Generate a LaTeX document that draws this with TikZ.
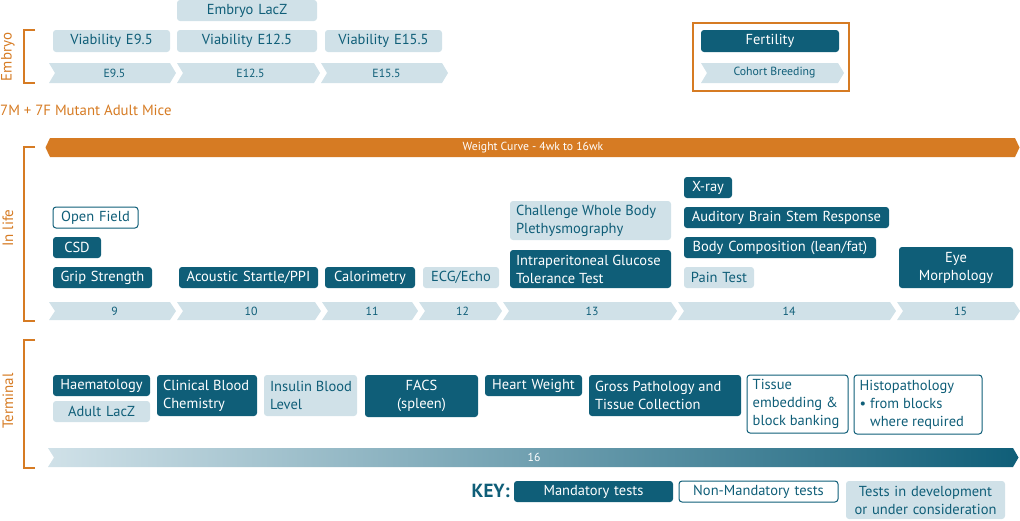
\documentclass[tikz,border=0pt]{standalone}
\usepackage{fontspec}
\setmainfont{PT Sans}
\definecolor{dk}{RGB}{15,94,120}
\definecolor{lt}{RGB}{208,225,232}
\definecolor{org}{RGB}{214,123,35}
\tikzset{
 boxfont/.style={font=\fontsize{14.5}{18}\selectfont},
 box/.style={rounded corners=3pt, inner sep=0pt, boxfont},
 mand/.style={box, fill=dk, text=white},
 nonm/.style={box, draw=dk, line width=1pt, fill=white, text=dk},
 devt/.style={box, fill=lt, text=dk},
 chevtxt/.style={font=\fontsize{11.8}{13}\selectfont, text=dk},
 bracket/.style={draw=org, line width=2.5pt},
 sect/.style={text=org, rotate=90, font=\fontsize{15}{17}\selectfont},
}
\newcommand\bx[7]{%
 \pgfmathsetmacro\bxw{#5-#3}\pgfmathsetmacro\bxh{#6-#4}\pgfmathsetmacro\bxtw{#5-#3-4}%
 \node[#1, minimum width=\bxw pt, minimum height=\bxh pt, text width=\bxtw pt, align=center] (#2) at ({(#3+#5)/2},{(#4+#6)/2}) {#7};}
% left-aligned text: #1 style, #2 text colour, #3 name, #4..#7 box, #8 text
\newcommand\bxl[8]{%
 \pgfmathsetmacro\bxw{#6-#4}\pgfmathsetmacro\bxh{#7-#5}%
 \node[#1, minimum width=\bxw pt, minimum height=\bxh pt,
   label={[anchor=west, xshift=6pt, inner sep=0pt, align=left, boxfont, text=#2]west:{#8}}] (#3) at ({(#4+#6)/2},{(#5+#7)/2}) {};}
\newcommand\chev[7]{%
 \fill[#6] (#2,#4) -- ({#3-6},#4) -- (#3,{(#4+#5)/2}) -- ({#3-6},#5) -- (#2,#5) -- ({#2+6},{(#4+#5)/2}) -- cycle;
 \node[chevtxt] (#1) at ({(#2+#3)/2+2},{(#4+#5)/2}) {#7};}
\begin{document}
\begin{tikzpicture}[x=1pt,y=-1pt]
\useasboundingbox (0,0) rectangle (1020,520);
% ---------- Embryo
\draw[bracket] (35,30) -- (24,30) -- (24,83) -- (35,83);
\node[sect] (lembryo) at (8,57) {Embryo};
\bx{devt}{elacz}{177}{0}{317}{21}{Embryo LacZ}
\bx{devt}{v95}{53}{30}{170}{52}{Viability E9.5}
\bx{devt}{v125}{177}{30}{317}{52}{Viability E12.5}
\bx{devt}{v155}{325}{30}{442}{52}{Viability E15.5}
\chev{ce95}{49}{176}{63}{83}{lt}{E9.5}
\chev{ce125}{177}{320}{63}{83}{lt}{E12.5}
\chev{ce155}{321}{448}{63}{83}{lt}{E15.5}
\draw[draw=org, line width=2pt] (693,23) rectangle (849,91);
\bx{mand}{fert}{701}{30}{839}{52}{Fertility}
\chev{ccoh}{701}{844}{63}{83}{lt}{Cohort Breeding}
\node[text=org, anchor=west, inner sep=0pt, font=\fontsize{14.8}{16}\selectfont] (mice) at (0,110) {7M + 7F Mutant Adult Mice};
% ---------- In life
\fill[org] (50,138) -- (1015,138) -- (1019.5,147.5) -- (1015,157) -- (50,157) -- (45.5,147.5) -- cycle;
\node[text=white, font=\fontsize{11.7}{13}\selectfont] (weight) at (533,147.5) {Weight Curve - 4wk to 16wk};
\draw[bracket] (35,147) -- (24,147) -- (24,321) -- (35,321);
\node[sect] (linlife) at (8,228) {In life};
\bx{nonm}{openf}{53}{207}{138}{228}{Open Field}
\bx{mand}{csd}{53}{237}{101}{258}{CSD}
\bx{mand}{grip}{53}{267}{152}{288}{Grip Strength}
\bx{mand}{acou}{179}{267}{318}{288}{Acoustic Startle/PPI}
\bx{mand}{calor}{325}{267}{415}{288}{Calorimetry}
\bx{devt}{ecg}{423}{267}{499}{288}{ECG/Echo}
\bxl{devt}{dk}{pleth}{510}{201}{671}{240}{Challenge Whole Body\\Plethysmography}
\bxl{mand}{white}{ipgtt}{510}{250}{671}{288}{Intraperitoneal Glucose\\Tolerance Test}
\bx{mand}{xray}{684}{177}{732}{198}{X-ray}
\bx{mand}{abr}{684}{207}{889}{228}{Auditory Brain Stem Response}
\bx{mand}{bodyc}{684}{237}{876}{258}{Body Composition (lean/fat)}
\bx{devt}{pain}{684}{267}{754}{288}{Pain Test}
\bx{mand}{eye}{899}{247}{1013}{288}{Eye\\Morphology}
\chev{c9}{49}{176}{302}{320}{lt}{9}
\chev{c10}{177}{321}{302}{320}{lt}{10}
\chev{c11}{322}{418}{302}{320}{lt}{11}
\chev{c12}{419}{502}{302}{320}{lt}{12}
\chev{c13}{503}{677}{302}{320}{lt}{13}
\chev{c14}{678}{896}{302}{320}{lt}{14}
\chev{c15}{897}{1020}{302}{320}{lt}{15}
% ---------- Terminal
\draw[bracket] (35,340) -- (24,340) -- (24,468) -- (35,468);
\node[sect] (lterm) at (8,401) {Terminal};
\bx{mand}{haem}{53}{375}{150}{396}{Haematology}
\bx{devt}{alacz}{53}{401}{150}{422}{Adult LacZ}
\bxl{mand}{white}{cbc}{157}{375}{257}{416}{Clinical Blood\\Chemistry}
\bxl{devt}{dk}{insul}{264}{375}{357}{416}{Insulin Blood\\Level}
\bx{mand}{facs}{365}{375}{478}{417}{FACS\\(spleen)}
\bx{mand}{heart}{485}{375}{582}{396}{Heart Weight}
\bxl{mand}{white}{gross}{589}{375}{741}{416}{Gross Pathology and\\Tissue Collection}
\bxl{nonm}{dk}{tissue}{747}{375}{848}{433}{Tissue\\embedding \&\\block banking}
\bxl{nonm}{dk}{histo}{854}{375}{982}{434}{Histopathology\\\textbullet\ from blocks\\\hphantom{\textbullet\ }where required}
\shade[left color=lt, right color=dk] (48,448) -- (1013,448) -- (1018.5,457.5) -- (1013,467) -- (48,467) -- (54,457.5) -- cycle;
\node[text=white, font=\fontsize{11.7}{13}\selectfont] (t16) at (534,457.5) {16};
% ---------- Key
\node[text=dk, font=\fontsize{19}{22}\bfseries, anchor=east, inner sep=0pt] (keylbl) at (510,491) {KEY:};
\bx{mand}{kmand}{514}{481}{673}{502}{Mandatory tests}
\bx{nonm}{knon}{679}{481}{838}{502}{Non-Mandatory tests}
\bx{devt}{kdev}{846}{481}{1005}{519}{Tests in development\\or under consideration}
\end{tikzpicture}
\end{document}
